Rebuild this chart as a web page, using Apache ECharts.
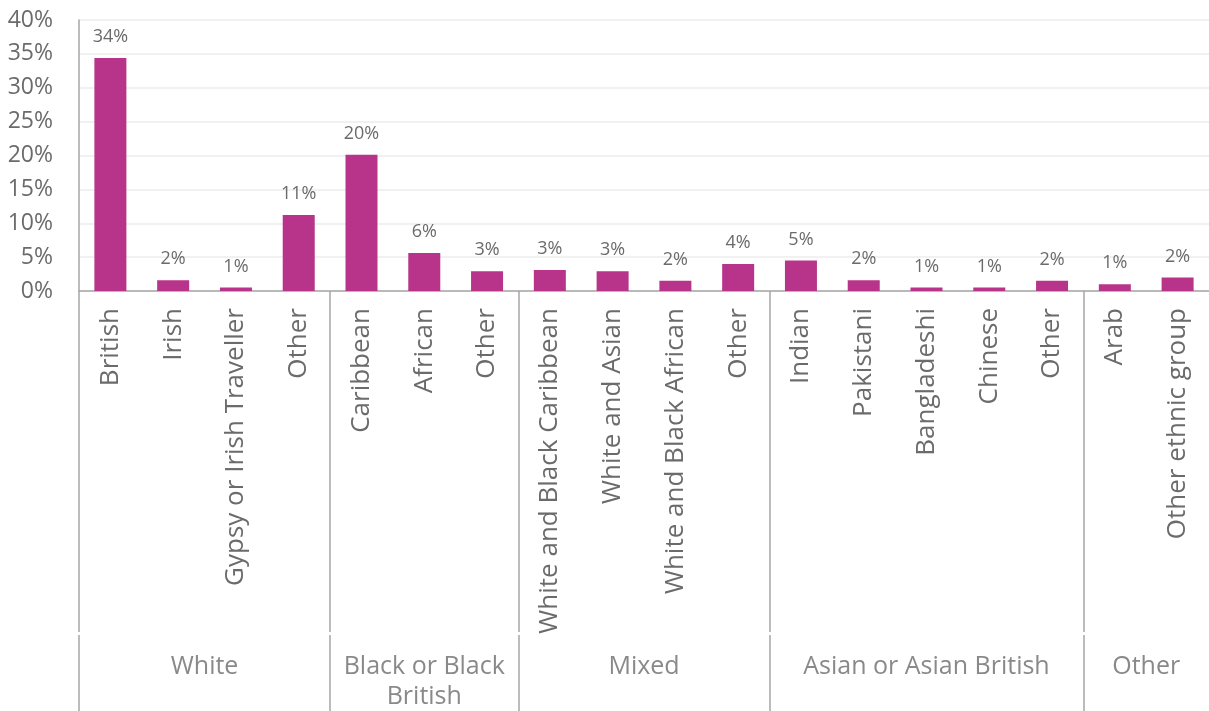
<!DOCTYPE html>
<html>
<head>
<meta charset="utf-8">
<script src="https://cdn.jsdelivr.net/npm/echarts@6/dist/echarts.min.js"></script>
<style>
  html, body { margin: 0; padding: 0; background: #fff; }
  #chart { width: 1209px; height: 711px; }
</style>
</head>
<body>
<div id="chart"></div>
<script>
// categories (lower level) and their percentages
const categories = ['British', 'Irish', 'Gypsy or Irish Traveller', 'Other', 'Caribbean', 'African', 'Other',
  'White and Black Caribbean', 'White and Asian', 'White and Black African', 'Other',
  'Indian', 'Pakistani', 'Bangladeshi', 'Chinese', 'Other', 'Arab', 'Other ethnic group']
const values = [34.4, 1.6, 0.5, 11.2, 20.1, 5.6, 2.9, 3.1, 2.9, 1.5, 4.0, 4.5, 1.6, 0.5, 0.5, 1.5, 1.0, 2.0]
// upper level groups and how many categories each holds
const groups = ['White', 'Black or Black\nBritish', 'Mixed', 'Asian or Asian British', 'Other']
const groupSizes = [4, 3, 4, 5, 2]
const yTicks = [0, 5, 10, 15, 20, 25, 30, 35, 40]

const textColor = '#6b6b6b'
const lineColor = '#a6a6a6'
const font = 'Open Sans'

// group boundaries and centres in category units
let bounds = [0]
groupSizes.forEach(n => bounds.push(bounds[bounds.length - 1] + n))
let groupPoints = groups.map((g, i) => ({ value: [(bounds[i] + bounds[i + 1]) / 2, 0.14], name: g }))
let sepLines = []
bounds.slice(0, -1).forEach(b => {
  sepLines.push([{ coord: [b, 0] }, { coord: [b, 0.181] }])
  sepLines.push([{ coord: [b, 0.188] }, { coord: [b, 1] }])
})

const chart = echarts.init(document.getElementById('chart'))
const option = {
  animation: false,
  grid: [
    { left: 79, width: 1132, top: 20, height: 271 },
    { left: 79, width: 1132, top: 291, height: 420 }
  ],
  xAxis: [{
    type: 'category',
    gridIndex: 0,
    data: categories,
    axisLine: { lineStyle: { color: lineColor, width: 1.5 } },
    axisTick: { show: false },
    axisLabel: {
      interval: 0,
      rotate: 90,
      margin: 17,
      color: textColor,
      fontFamily: font,
      fontSize: 26
    }
  }, {
    type: 'value',
    gridIndex: 1,
    min: 0,
    max: categories.length,
    show: false
  }],
  yAxis: [{
    type: 'value',
    gridIndex: 0,
    min: 0,
    max: yTicks[yTicks.length - 1],
    interval: 5,
    axisLine: { show: true, lineStyle: { color: lineColor, width: 1.5 } },
    axisTick: { show: false },
    splitLine: { lineStyle: { color: '#ededed', width: 1.5 } },
    axisLabel: {
      margin: 26,
      color: textColor,
      fontFamily: font,
      fontSize: 23,
      formatter: '{value}%'
    }
  }, {
    type: 'value',
    gridIndex: 1,
    min: 0,
    max: 1,
    show: false
  }],
  series: [{
    type: 'bar',
    xAxisIndex: 0,
    yAxisIndex: 0,
    data: values,
    barWidth: 32,
    itemStyle: { color: '#b8348a' },
    label: {
      show: true,
      position: 'top',
      distance: 12,
      color: textColor,
      fontFamily: font,
      fontSize: 18,
      formatter: p => Math.round(p.value) + '%'
    }
  }, {
    type: 'scatter',
    xAxisIndex: 1,
    yAxisIndex: 1,
    symbolSize: 0,
    data: groupPoints,
    label: {
      show: true,
      position: 'bottom',
      distance: 0,
      align: 'center',
      color: textColor,
      fontFamily: font,
      fontSize: 25,
      lineHeight: 30,
      formatter: p => p.name
    },
    markLine: {
      silent: true,
      symbol: 'none',
      label: { show: false },
      lineStyle: { color: lineColor, width: 1.5, type: 'solid' },
      data: sepLines
    }
  }]
}
chart.setOption(option)
</script>
</body>
</html>
